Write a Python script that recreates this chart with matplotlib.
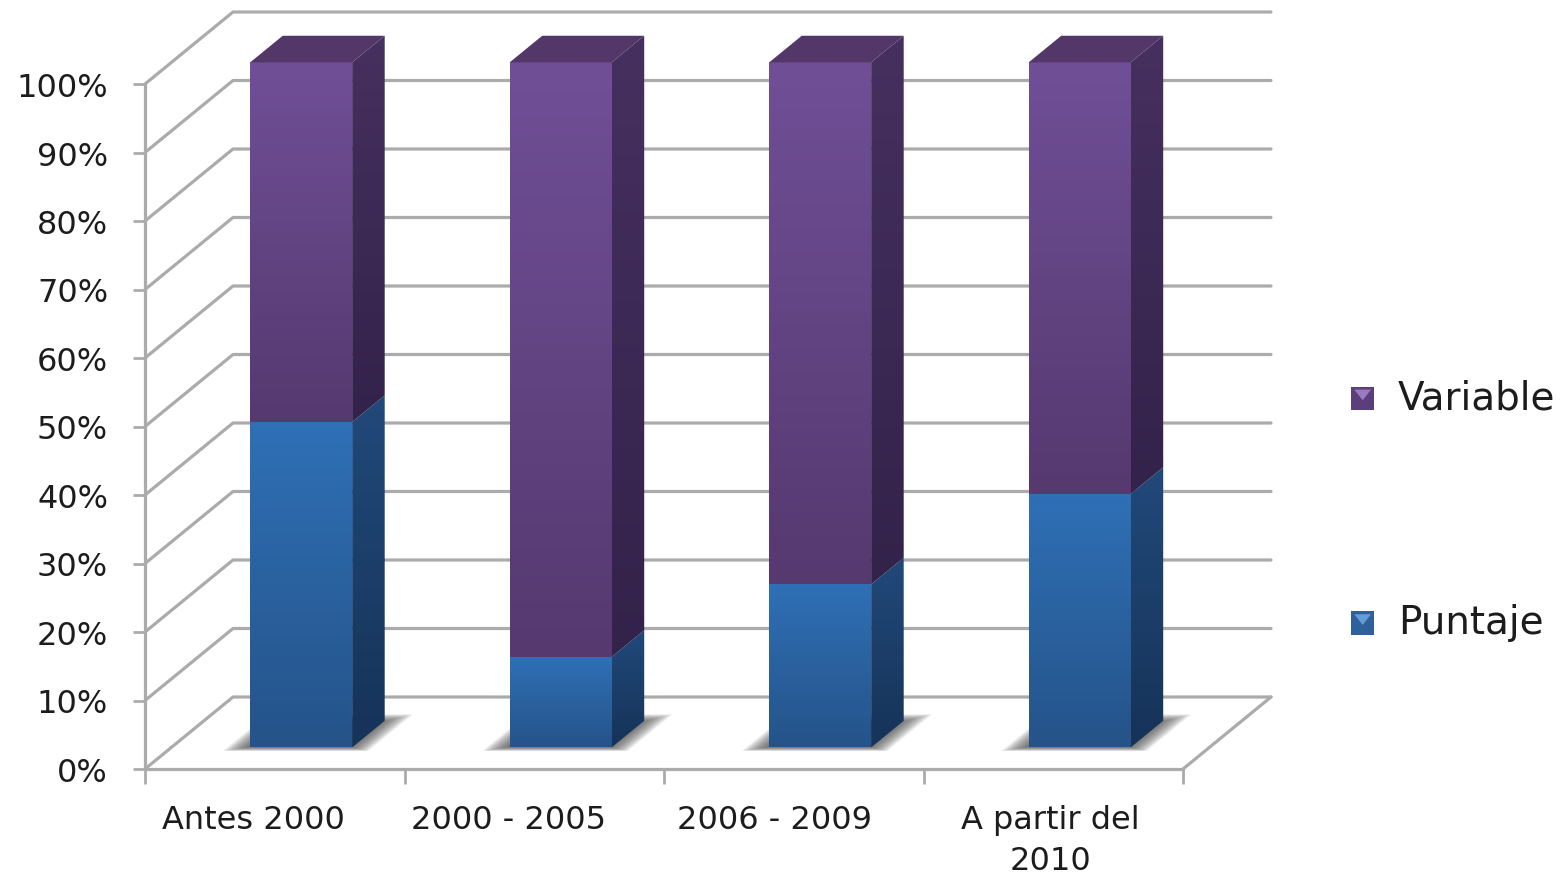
import numpy as np
import matplotlib
matplotlib.use("Agg")
from matplotlib import pyplot as plt
from matplotlib.colors import LinearSegmentedColormap
from matplotlib.legend_handler import HandlerBase
from matplotlib.patches import Patch, Polygon, Rectangle

# datos
categories = ["Antes 2000", "2000 - 2005", "2006 - 2009", "A partir del\n2010"]
puntaje = [47.5, 13.2, 23.8, 37]
variable = [52.5, 86.8, 76.2, 63]
y_ticks = [0, 10, 20, 30, 40, 50, 60, 70, 80, 90, 100]

# estilo
label_shift = [-21, -26, -19, -3]   # px, the labels sit left of the slot centre
grid_col = "#ababab"
text_col = "#1c1c1c"
font_size = 23

# depth of the 3d box, in data units
depth_x = 88 / 259.5
depth_y = 72 / 6.85
bar_w = 0.393
bar_near = 0.30
bar_far = 0.67

front_blue = ("#2f70b6", "#255389")
side_blue = ("#21497a", "#163358")
front_purple = ("#704f97", "#55396f")
side_purple = ("#46305f", "#33224a")
top_purple = "#523768"


def proj(x, y, d):
    return x + d * depth_x, y + d * depth_y


fig = plt.figure(figsize=(15.65, 8.79), dpi=100)
ax = fig.add_axes([145 / 1565, (879 - 770) / 879, 1038 / 1565, 685 / 879])
ax.set_xlim(0, 4)
ax.set_ylim(0, 100)
for s in ax.spines.values():
    s.set_visible(False)


def line(xs, ys, **kw):
    ax.plot(xs, ys, color=grid_col, lw=2.3, clip_on=False, zorder=1,
            solid_capstyle="round", **kw)


# back wall, left wall and floor
for t in y_ticks:
    x0, y0 = proj(0, t, 0)
    x1, y1 = proj(0, t, 1)
    x2, y2 = proj(4, t, 1)
    line([x0, x1, x2], [y0, y1, y2])
line([0, 0], [0, 100])
line([0, 4], [0, 0])
x1, y1 = proj(4, 0, 1)
line([4, x1], [0, y1])


def gradient_face(pts, cols, z):
    pts = np.array(pts)
    cmap = LinearSegmentedColormap.from_list("g", [cols[1], cols[0]])
    im = ax.imshow(np.linspace(0, 1, 256)[:, None], cmap=cmap, origin="lower", aspect="auto",
                   extent=[pts[:, 0].min(), pts[:, 0].max(), pts[:, 1].min(), pts[:, 1].max()],
                   zorder=z, interpolation="bilinear")
    im.set_clip_box(fig.bbox)
    im.set_clip_path(Polygon(pts, closed=True, transform=ax.transData))


def floor_shadow(i):
    # stacked soft layers instead of a real blur
    for k in range(14):
        g = 0.006 * k
        dn = 0.25 + 0.004 * k
        df = 0.76 - 0.008 * k
        l, r = i + 0.215 + g, i + 0.775 - g
        pts = [proj(l, 0, dn), proj(r, 0, dn), proj(r, 0, df), proj(l, 0, df)]
        ax.add_patch(Polygon(pts, closed=True, fc="#4a4a4a", ec="none", alpha=0.085,
                             clip_on=False, zorder=1.5))


def segment(i, base, h, front, side, z):
    l = i + 0.5 - bar_w / 2
    r = i + 0.5 + bar_w / 2
    top = base + h
    gradient_face([proj(l, base, bar_near), proj(r, base, bar_near),
                   proj(r, top, bar_near), proj(l, top, bar_near)], front, z)
    gradient_face([proj(r, base, bar_near), proj(r, base, bar_far),
                   proj(r, top, bar_far), proj(r, top, bar_near)], side, z)


for i in range(len(categories)):
    floor_shadow(i)
    segment(i, 0, puntaje[i], front_blue, side_blue, 2)
    segment(i, puntaje[i], variable[i], front_purple, side_purple, 2.1)
    l = i + 0.5 - bar_w / 2
    r = i + 0.5 + bar_w / 2
    top = puntaje[i] + variable[i]
    ax.add_patch(Polygon([proj(l, top, bar_near), proj(r, top, bar_near),
                          proj(r, top, bar_far), proj(l, top, bar_far)],
                         closed=True, fc=top_purple, ec="none", clip_on=False, zorder=2.2))

ax.set_yticks(y_ticks)
ax.set_yticklabels([f"{t}%" for t in y_ticks])
ax.set_xticks(range(5))
ax.set_xticklabels([])
ax.tick_params(axis="y", length=8.6, width=2.0, color=grid_col, pad=18,
               labelsize=font_size, labelcolor=text_col)
ax.tick_params(axis="x", length=11, width=2.0, color=grid_col)

for i, c in enumerate(categories):
    ax.annotate(c, (i + 0.5, 0), xytext=(label_shift[i] * 0.72, -25), textcoords="offset points",
                ha="center", va="top", fontsize=font_size, color=text_col,
                linespacing=1.42, annotation_clip=False)


class GemHandler(HandlerBase):
    # small square with a light triangle, like the office legend key
    def create_artists(self, legend, orig, xd, yd, w, h, fs, trans):
        square = Rectangle((xd * -1, -yd - 2), w, w, fc=orig.get_facecolor(), ec="none", transform=trans)
        tri = Polygon([(-xd + w * 0.14, -yd - 2 + w * 0.88), (-xd + w * 0.86, -yd - 2 + w * 0.88),
                       (-xd + w * 0.5, -yd - 2 + w * 0.42)], closed=True,
                      fc=orig.get_edgecolor(), ec="none", transform=trans)
        return [square, tri]


handles = [Patch(fc="#5b3f7c", ec="#9a7ac0"), Patch(fc="#2f609c", ec="#649cd8")]
fig.legend(handles, ["Variable", "Puntaje"], handler_map={Patch: GemHandler()},
           loc="center left", bbox_to_anchor=(1316 / 1565, 1 - 511 / 879), frameon=False,
           fontsize=28, labelcolor=text_col, handlelength=0.6, handleheight=0.6,
           handletextpad=0.6, labelspacing=4.8)

fig.savefig("out.png", dpi=100)
